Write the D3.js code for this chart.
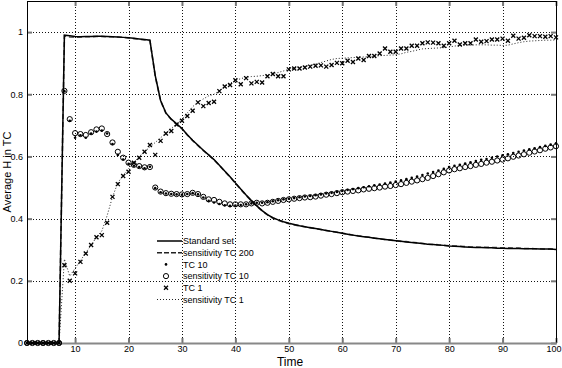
<!DOCTYPE html>
<html><head><meta charset="utf-8">
<script src="https://cdn.jsdelivr.net/npm/d3@7"></script>
<style>
html,body{margin:0;padding:0;background:#fff;}
svg{display:block;}
text{font-family:"Liberation Sans",Arial,Helvetica,sans-serif;fill:#000;}
</style></head>
<body><svg id="c" width="562" height="368"></svg>
<script>
// ---- data ----
const time = d3.range(1, 101); // time steps 1..100
const xTicks = [10,20,30,40,50,60,70,80,90,100];
const yTicks = [0,0.2,0.4,0.6,0.8,1];
const yTickLabels = ["0","0.2","0.4","0.6","0.8","1"];
const seriesNames = ["Standard set","sensitivity TC 200","TC 10","sensitivity TC 10","TC 1","sensitivity TC 1"];

const standardSet = [0,0,0,0,0,0,0,
 .99,.988,.986,.985,.986,.986,.987,.987,.986,.985,.984,.983,.982,.980,.978,.976,.974,
 .86,.78,.74,.72,.705,.69,.67,.652,.636,.62,.605,.59,.572,.553,.535,.515,
 .495,.476,.458,.441,.426,.413,.403,.396,.390,.385,
 .381,.377,.374,.371,.368,.365,.362,.359,.356,.353,
 .350,.347,.344,.342,.340,.337,.335,.333,.331,.329,
 .327,.325,.323,.322,.320,.318,.317,.315,.314,.312,
 .311,.310,.309,.308,.307,.307,.306,.306,.305,.305,
 .304,.304,.304,.303,.303,.303,.302,.302,.302,.301];
const sensTC200 = [0,0,0,0,0,0,0,
 .988,.984,.983,.984,.985,.985,.986,.986,.985,.985,.984,.983,.981,.979,.977,.975,.973,
 .858,.779,.739,.719,.704,.689,.669,.651,.635,.619,.604,.589,.571,.552,.534,.514,
 .494,.475,.457,.44,.425,.412,.402,.395,.389,.384,
 .38,.377,.374,.371,.368,.365,.362,.359,.356,.353,
 .35,.347,.345,.342,.34,.338,.335,.333,.331,.329,
 .327,.326,.324,.322,.32,.318,.317,.316,.314,.313,
 .312,.311,.31,.309,.309,.308,.308,.307,.307,.306,
 .306,.305,.305,.304,.304,.303,.303,.302,.302,.302];
const tc10 = [0,0,0,0,0,0,0,
 .81,.715,.66,.668,.66,.674,.68,.683,.674,.64,.605,.59,.576,.57,.566,.562,.567,
 .498,.485,.481,.479,.478,.477,.479,.482,.478,.468,.457,.452,.447,.443,.441,.442,
 .444,.446,.449,.451,.451,.453,.456,.459,.462,.464,
 .466,.469,.471,.473,.475,.478,.481,.483,.486,.489,
 .492,.495,.498,.501,.504,.507,.51,.513,.516,.519,
 .523,.527,.531,.535,.54,.545,.55,.555,.56,.566,
 .57,.573,.577,.581,.585,.589,.592,.596,.6,.604,
 .607,.611,.615,.619,.623,.626,.63,.634,.638,.642];
const sensTC10 = [0,0,0,0,0,0,0,
 .811,.72,.675,.672,.669,.678,.687,.69,.672,.645,.615,.596,.58,.573,.569,.565,.566,
 .50,.487,.482,.48,.479,.478,.479,.483,.479,.47,.462,.46,.454,.449,.446,.446,
 .446,.446,.449,.451,.449,.451,.454,.457,.46,.462,
 .464,.466,.468,.469,.471,.474,.477,.479,.482,.485,
 .487,.489,.491,.494,.496,.498,.5,.503,.505,.508,
 .511,.515,.519,.523,.527,.531,.537,.543,.549,.555,
 .559,.562,.566,.569,.573,.576,.58,.583,.587,.59,
 .594,.599,.603,.607,.612,.616,.62,.625,.629,.633];
const tc1 = [0,0,0,0,0,0,0,
 .25,.2,.224,.261,.288,.315,.34,.347,.387,.47,.511,.537,.551,.58,.596,.615,.637,
 .605,.65,.674,.682,.703,.715,.73,.747,.774,.762,.772,.776,.81,.825,.83,.845,
 .832,.852,.835,.84,.838,.858,.865,.858,.858,.88,
 .883,.883,.886,.889,.892,.893,.889,.894,.901,.9,
 .908,.904,.915,.91,.923,.923,.931,.947,.937,.937,
 .947,.947,.956,.956,.964,.967,.966,.964,.956,.964,
 .972,.96,.964,.964,.976,.969,.971,.976,.976,.979,
 .972,.988,.979,.982,.99,.987,.987,.985,.987,.983];
const sensTC1 = [0,0,0,0,0,0,0,
 .27,.215,.24,.265,.29,.315,.34,.36,.41,.47,.515,.54,.56,.58,.6,.615,.63,
 .645,.66,.675,.69,.705,.72,.74,.76,.775,.785,.795,.8,.81,.825,.835,.845,
 .85,.855,.857,.858,.86,.862,.866,.87,.875,.88,
 .884,.887,.89,.893,.897,.902,.907,.912,.915,.916,
 .917,.918,.919,.92,.921,.922,.924,.925,.926,.927,
 .93,.935,.938,.942,.946,.947,.948,.949,.95,.952,
 .955,.957,.958,.958,.959,.959,.959,.958,.958,.957,
 .958,.962,.966,.969,.971,.972,.973,.974,.974,.975];

// ---- layout ----
const L = 27, R = 556, T = 1, B = 343;
const svg = d3.select("#c");
const x = d3.scaleLinear().domain([1,100]).range([L,R]);
const y = d3.scaleLinear().domain([0,1.1]).range([B,T]);

// grid
const g = svg.append("g");
g.selectAll(".vg").data(xTicks.filter(d=>d<100)).join("line")
  .attr("x1",d=>Math.round(x(d))+0.5).attr("x2",d=>Math.round(x(d))+0.5)
  .attr("y1",T).attr("y2",B)
  .attr("stroke","#111").attr("stroke-width",1).attr("stroke-dasharray","1,2");
g.selectAll(".hg").data(yTicks.filter(d=>d>0)).join("line")
  .attr("y1",d=>Math.round(y(d))+0.5).attr("y2",d=>Math.round(y(d))+0.5)
  .attr("x1",L).attr("x2",R)
  .attr("stroke","#111").attr("stroke-width",1).attr("stroke-dasharray","1,2");

// axes via d3
const fmtY = d => yTickLabels[yTicks.indexOf(d)];
const tickFont = '"Liberation Sans Narrow","Liberation Sans",Arial,sans-serif';
const axB = svg.append("g").attr("transform",`translate(0,${B})`)
  .call(d3.axisBottom(x).tickValues(xTicks).tickSize(-5).tickPadding(3).tickFormat(d3.format("d")));
const axL = svg.append("g").attr("transform",`translate(${L},0)`)
  .call(d3.axisLeft(y).tickValues(yTicks).tickSize(-5).tickPadding(4).tickFormat(fmtY));
const axT = svg.append("g").attr("transform",`translate(0,${T})`)
  .call(d3.axisTop(x).tickValues(xTicks).tickSize(-5).tickFormat(""));
const axR = svg.append("g").attr("transform",`translate(${R},0)`)
  .call(d3.axisRight(y).tickValues(yTicks).tickSize(-5).tickFormat(""));
[axB,axL,axT,axR].forEach(a=>{
  a.select(".domain").remove();
  a.selectAll(".tick line").attr("stroke","#777").attr("stroke-width",2);
  a.selectAll("text").attr("font-size",9).attr("font-family",tickFont).attr("fill","#000");
});
axB.selectAll(".tick text").filter(d=>d===100).attr("text-anchor","end").attr("x",5);
// frame
svg.append("line").attr("x1",L+0.5).attr("x2",L+0.5).attr("y1",T).attr("y2",B).attr("stroke","#000");
svg.append("line").attr("x1",R+0.5).attr("x2",R+0.5).attr("y1",T).attr("y2",B).attr("stroke","#000");
svg.append("line").attr("x1",L).attr("x2",R+1).attr("y1",T+0.5).attr("y2",T+0.5).attr("stroke","#000");
svg.append("line").attr("x1",L).attr("x2",R+1).attr("y1",B+0.5).attr("y2",B+0.5).attr("stroke","#888").attr("stroke-width",2);

// lines
const line = d3.line().x((d,i)=>x(time[i])).y(d=>y(d));
svg.append("path").datum(sensTC1).attr("d",line).attr("fill","none")
  .attr("stroke","#222").attr("stroke-width",1).attr("stroke-dasharray","1,2");
svg.append("path").datum(sensTC200).attr("d",line).attr("fill","none")
  .attr("stroke","#555").attr("stroke-width",1.6).attr("stroke-dasharray","5,3");
svg.append("path").datum(standardSet).attr("d",line).attr("fill","none")
  .attr("stroke","#000").attr("stroke-width",1.5);

// markers
const xPath = "M-2,-2L2,2M-2,2L2,-2";
const mk = svg.append("g");
mk.selectAll(".o").data(sensTC10).join("circle")
  .attr("cx",(d,i)=>x(time[i])).attr("cy",d=>y(d)).attr("r",2.6)
  .attr("fill","none").attr("stroke","#000").attr("stroke-width",1);
mk.selectAll(".d").data(tc10).join("circle")
  .attr("cx",(d,i)=>x(time[i])).attr("cy",d=>y(d)).attr("r",1.3)
  .attr("fill","#000");
mk.selectAll(".x").data(tc1).join("path")
  .attr("transform",(d,i)=>`translate(${x(time[i])},${y(d)})`)
  .attr("d",xPath)
  .attr("fill","none").attr("stroke","#000").attr("stroke-width",1.3);

// legend
const lg = svg.append("g").attr("font-size",9);
const lx0 = 157, lx1 = 182, ly0 = 241, ldy = 11.7;
seriesNames.forEach((name,i)=>{
  const yy = ly0 + i*ldy;
  if(i===0) lg.append("line").attr("x1",lx0).attr("x2",lx1).attr("y1",yy).attr("y2",yy).attr("stroke","#000").attr("stroke-width",1.5);
  if(i===1) lg.append("line").attr("x1",lx0).attr("x2",lx1).attr("y1",yy).attr("y2",yy).attr("stroke","#222").attr("stroke-width",1.5).attr("stroke-dasharray","5,2");
  if(i===2) lg.append("circle").attr("cx",166).attr("cy",yy).attr("r",1.3).attr("fill","#000");
  if(i===3) lg.append("circle").attr("cx",166).attr("cy",yy).attr("r",2.6).attr("fill","none").attr("stroke","#000");
  if(i===4) lg.append("path").attr("transform",`translate(166,${yy})`).attr("d",xPath).attr("fill","none").attr("stroke","#000").attr("stroke-width",1.3);
  if(i===5) lg.append("line").attr("x1",lx0).attr("x2",lx1).attr("y1",yy).attr("y2",yy).attr("stroke","#222").attr("stroke-dasharray","1,2");
  lg.append("text").attr("x",183).attr("y",yy+3.3).text(name);
});

// axis labels
svg.append("text").attr("x",290).attr("y",366).attr("text-anchor","middle").attr("font-size",12).text("Time");
svg.append("text").attr("transform","translate(11,172) rotate(-90)").attr("text-anchor","middle").attr("font-size",11).text("Average H in TC");
</script></body></html>
